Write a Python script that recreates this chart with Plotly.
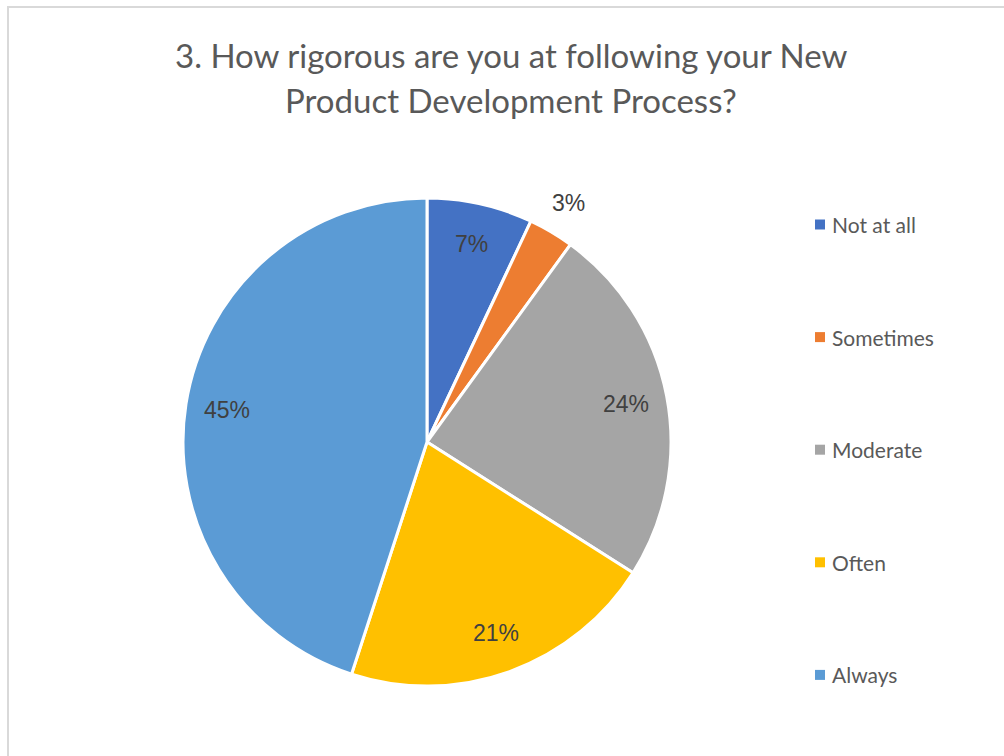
import math
import plotly.graph_objects as go

# Survey responses (percent of respondents)
categories = ["Not at all", "Sometimes", "Moderate", "Often", "Always"]
values = [7, 3, 24, 21, 45]
colors = ["#4472C4", "#ED7D31", "#A5A5A5", "#FFC000", "#5B9BD5"]
title_lines = ["3. How rigorous are you at following your New",
               "Product Development Process?"]

W, H = 1004, 756
# Pie placement in pixels (converted to paper fractions below)
cx, cy, R = 427, 442, 244

fig = go.Figure(go.Pie(
    labels=categories,
    values=values,
    marker=dict(colors=colors, line=dict(color="white", width=3)),
    sort=False,
    direction="clockwise",
    rotation=0,
    textinfo="none",
    hoverinfo="label+percent",
    showlegend=False,
    domain=dict(x=[(cx - R) / W, (cx + R) / W],
                y=[1 - (cy + R) / H, 1 - (cy - R) / H]),
))

annotations = []
shapes = []

# Data labels: placed along each slice's mid-angle
total = sum(values)
cum = 0
for cat, v in zip(categories, values):
    mid = (cum + v / 2) / total * 2 * math.pi
    cum += v
    frac = 1.14 if v / total < 0.05 else 0.83
    px = cx + R * frac * math.sin(mid)
    py = cy - R * frac * math.cos(mid)
    annotations.append(dict(
        x=px / W, y=1 - py / H, xref="paper", yref="paper",
        text=f"{round(v / total * 100)}%", showarrow=False,
        font=dict(family="Liberation Sans, Arial", size=23, color="#404040"),
        xanchor="center", yanchor="middle",
    ))

# Legend: coloured squares with labels on the right
leg_x, leg_y0, leg_dy = 815, 224.5, 112.6
for i, (cat, col) in enumerate(zip(categories, colors)):
    yc = leg_y0 + i * leg_dy
    shapes.append(dict(type="rect", xref="paper", yref="paper",
                       x0=leg_x / W, x1=(leg_x + 10) / W,
                       y0=1 - (yc + 5) / H, y1=1 - (yc - 5) / H,
                       fillcolor=col, line=dict(width=0)))
    annotations.append(dict(
        x=(leg_x + 15) / W, y=1 - yc / H, xref="paper", yref="paper",
        text=cat, showarrow=False, xanchor="left", yanchor="middle",
        font=dict(family="Lato, Open Sans", size=21, color="#595959"),
    ))

# Title, two centred lines
for j, line in enumerate(title_lines):
    annotations.append(dict(
        x=511 / W, y=1 - (55 + j * 45) / H, xref="paper", yref="paper",
        text=line, showarrow=False, xanchor="center", yanchor="middle",
        font=dict(family="Lato, Open Sans", size=33, color="#595959"),
    ))

# Chart-area frame
shapes.append(dict(type="rect", xref="paper", yref="paper",
                   x0=8 / W, x1=1.05, y0=-0.05, y1=1 - 7 / H,
                   line=dict(color="#D9D9D9", width=2), fillcolor="rgba(0,0,0,0)",
                   layer="below"))

fig.update_layout(
    width=W, height=H,
    margin=dict(l=0, r=0, t=0, b=0),
    paper_bgcolor="white",
    plot_bgcolor="white",
    annotations=annotations,
    shapes=shapes,
)

fig.write_html("out.html")
